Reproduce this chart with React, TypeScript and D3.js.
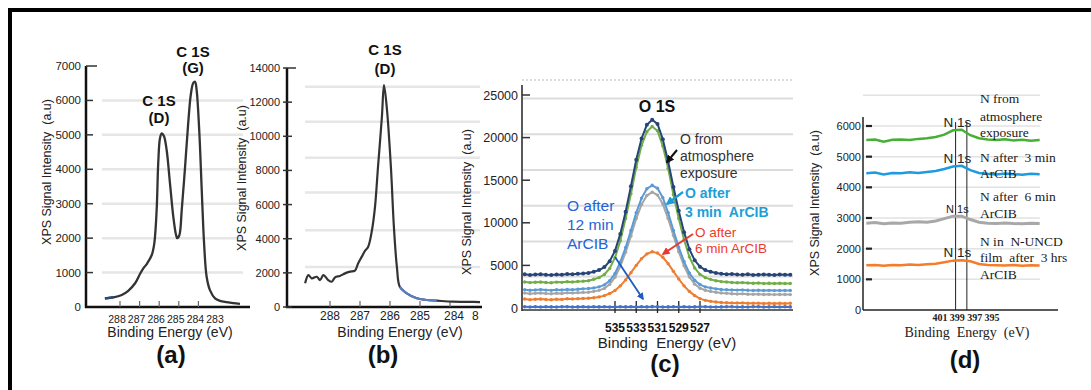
import React, { useEffect } from "react";
import * as d3 from "d3";

const SANS = "'Liberation Sans', Arial, Helvetica, sans-serif";
const SERIF = "'Liberation Serif', 'Times New Roman', serif";

// ---------------- (a) C 1S, two peaks ----------------
const aEnergy = [288.77, 288.34, 287.91, 287.58, 287.23, 286.98, 286.81, 286.61, 286.38, 286.25, 286.13, 286.05, 285.96, 285.87, 285.76, 285.62, 285.45, 285.28, 285.14, 285.08, 284.97, 284.85, 284.68, 284.52, 284.38, 284.26, 284.17, 284.09, 283.95, 283.83, 283.71, 283.58, 283.41, 283.15, 282.9, 282.56, 282.22, 281.88];
const aIntensity = [250, 280, 350, 470, 690, 960, 1120, 1270, 1510, 1850, 2820, 4170, 4900, 5040, 4970, 4560, 3590, 2620, 2090, 2000, 2090, 2820, 4070, 5340, 6200, 6510, 6540, 6300, 5040, 3400, 1850, 880, 490, 250, 180, 140, 110, 90];
const aYTicks = [0, 1000, 2000, 3000, 4000, 5000, 6000, 7000];
const aXTicks = [288, 287, 286, 285, 284, 283];
const aGrid = [1000, 2000, 3000, 4000, 5000, 6000];

// ---------------- (b) C 1S, single peak ----------------
const bEnergy = [288.83, 288.72, 288.61, 288.44, 288.33, 288.22, 288.06, 287.94, 287.83, 287.67, 287.5, 287.33, 287.17, 287.06, 286.94, 286.83, 286.73, 286.6, 286.5, 286.4, 286.27, 286.2, 286.1, 285.97, 285.87, 285.77, 285.67, 285.44, 285.11, 284.78, 284.44, 283.9, 283.33, 283.0];
const bIntensity = [1390, 1870, 1680, 1770, 1580, 1870, 1580, 1480, 1740, 1820, 1970, 2070, 2130, 2560, 2950, 3300, 3520, 4510, 5860, 8200, 11130, 13000, 11540, 8200, 4690, 2340, 1170, 800, 510, 410, 370, 310, 300, 290];
const bYTicks = [0, 2000, 4000, 6000, 8000, 10000, 12000, 14000];
const bXTicks = [288, 287, 286, 285, 284, 283];
const bXLabels = ["288", "287", "286", "285", "284", "8"];
const bGrid = [2350, 4500, 6700, 8750, 10850, 12900];

// ---------------- (c) O 1S ----------------
const cEnergy = [543.5, 543, 542.5, 542, 541.5, 541, 540.5, 540, 539.5, 539, 538.5, 538, 537.5, 537, 536.5, 536, 535.5, 535, 534.5, 534, 533.5, 533, 532.5, 532, 531.5, 531, 530.5, 530, 529.5, 529, 528.5, 528, 527.5, 527, 526.5, 526, 525.5, 525, 524.5, 524, 523.5, 523, 522.5, 522, 521.5, 521, 520.5, 520, 519.5, 519, 518.5];
const cAtmosphere = [3950, 3880, 3920, 3960, 3900, 3870, 3940, 3910, 3980, 3950, 4020, 4050, 4100, 4260, 4450, 4800, 5500, 6700, 8700, 11300, 14300, 17400, 19900, 21500, 22100, 21600, 19800, 17200, 14200, 11400, 8900, 6900, 5600, 4850, 4450, 4250, 4100, 4020, 3950, 3980, 3920, 3900, 3950, 3880, 3910, 3940, 3900, 3870, 3920, 3890, 3900];
const cGreen = [3050, 2980, 3020, 3060, 3000, 2970, 3040, 3010, 3080, 3050, 3120, 3150, 3200, 3380, 3560, 3930, 4650, 5900, 7900, 10500, 13400, 16500, 19100, 20700, 21300, 20800, 19000, 16400, 13300, 10500, 8000, 6000, 4700, 3950, 3560, 3360, 3200, 3100, 3050, 3000, 2960, 2980, 2940, 2900, 2930, 2880, 2900, 2870, 2900, 2880, 2890];
const cMin3 = [2150, 2080, 2120, 2160, 2100, 2070, 2140, 2110, 2180, 2150, 2200, 2250, 2280, 2360, 2480, 2720, 3200, 4050, 5400, 7100, 9100, 11200, 12900, 14000, 14400, 14050, 12950, 11200, 9100, 7150, 5450, 4100, 3250, 2750, 2480, 2350, 2250, 2180, 2150, 2120, 2100, 2120, 2080, 2060, 2090, 2050, 2070, 2040, 2060, 2050, 2060];
const cGray = [1750, 1680, 1720, 1760, 1700, 1670, 1740, 1710, 1780, 1750, 1800, 1830, 1850, 1950, 2070, 2300, 2770, 3600, 4900, 6550, 8450, 10500, 12150, 13200, 13600, 13250, 12200, 10500, 8500, 6600, 4950, 3650, 2800, 2320, 2080, 1950, 1850, 1760, 1720, 1680, 1650, 1660, 1620, 1600, 1620, 1580, 1600, 1570, 1590, 1580, 1570];
const cMin6 = [1050, 980, 1020, 1060, 1000, 970, 1040, 1010, 1080, 1050, 1100, 1120, 1150, 1200, 1300, 1450, 1700, 2050, 2600, 3300, 4150, 5000, 5800, 6350, 6600, 6450, 5950, 5200, 4300, 3400, 2600, 1950, 1450, 1100, 900, 780, 700, 650, 620, 600, 580, 600, 560, 550, 570, 540, 560, 530, 550, 540, 550];
const cMin12 = [150, 120, 140, 110, 150, 130, 120, 140, 150, 110, 130, 140, 120, 150, 130, 140, 120, 110, 150, 130, 140, 120, 150, 130, 160, 140, 120, 130, 150, 110, 140, 120, 130, 150, 140, 120, 110, 130, 150, 140, 120, 130, 110, 150, 140, 120, 130, 150, 110, 140, 130];
const cYTicks = [0, 5000, 10000, 15000, 20000, 25000];
const cXTicks = [535, 533, 531, 529, 527];
const cGrid = [3700, 7800, 12000, 16200, 20400, 24600];

// ---------------- (d) N 1s ----------------
const dEnergy = [409.5, 408.5, 407.5, 406.5, 405.5, 404.5, 403.5, 402.5, 401.5, 400.5, 399.5, 398.5, 397.5, 396.5, 395.5, 394.5, 393.5, 392.5, 391.5, 390.5, 389.5];
const dAtmosphere = [5540, 5560, 5490, 5550, 5560, 5540, 5580, 5600, 5640, 5720, 5860, 5880, 5700, 5600, 5560, 5540, 5570, 5530, 5550, 5520, 5540];
const dMin3 = [4460, 4480, 4420, 4470, 4460, 4490, 4470, 4500, 4530, 4600, 4680, 4700, 4560, 4470, 4440, 4420, 4450, 4430, 4410, 4440, 4430];
const dMin6 = [2830, 2850, 2810, 2840, 2830, 2860, 2880, 2860, 2900, 2980, 3060, 3060, 2950, 2860, 2830, 2820, 2840, 2820, 2810, 2830, 2820];
const dHrs3 = [1460, 1470, 1440, 1470, 1460, 1480, 1470, 1490, 1510, 1560, 1610, 1620, 1590, 1500, 1470, 1460, 1450, 1470, 1440, 1460, 1450];
const dYTicks = [0, 1000, 2000, 3000, 4000, 5000, 6000];
const dXTicks = [401, 399, 397, 395];
const dGrid = [1000, 2000, 3000, 4000, 5000, 6000, 7000];
const dVLines = [399.2, 397.9];

const YLABEL = "XPS Signal Intensity  (a.u)";

export default function App() {
  useEffect(() => {
    document.body.style.margin = "0";
  }, []);

  // (a)
  const ax = d3.scaleLinear().domain([288, 283]).range([120, 218]);
  const ay = d3.scaleLinear().domain([0, 7000]).range([307, 66]);
  const aPath = d3
    .line<number>()
    .x((_, i) => ax(aEnergy[i]))
    .y((v) => ay(v))
    .curve(d3.curveCatmullRom.alpha(0.5));

  // (b)
  const bx = d3.scaleLinear().domain([288, 284]).range([330, 450]);
  const by = d3.scaleLinear().domain([0, 14000]).range([307, 68]);
  const bPath = d3
    .line<number>()
    .x((_, i) => bx(bEnergy[i]))
    .y((v) => by(v))
    .curve(d3.curveCatmullRom.alpha(0.5));
  const bBlueIdx = [26, 27, 28, 29, 30];

  // (c)
  const cx = d3.scaleLinear().domain([535, 527]).range([615, 700]);
  const cy = d3.scaleLinear().domain([0, 25000]).range([308, 95]);
  const cPath = d3
    .line<number>()
    .x((_, i) => cx(cEnergy[i]))
    .y((v) => cy(v));
  const cSeries = [
    { values: cMin12, color: "#4472C4", r: 1.8 },
    { values: cMin6, color: "#ED7D31", r: 1.7 },
    { values: cGray, color: "#A5A5A5", r: 1.7 },
    { values: cMin3, color: "#5B9BD5", r: 1.7 },
    { values: cGreen, color: "#70AD47", r: 1.7 },
    { values: cAtmosphere, color: "#264478", r: 2 },
  ];

  // (d)
  const dx = d3.scaleLinear().domain([401, 395]).range([940, 992]);
  const dy = d3.scaleLinear().domain([0, 6000]).range([310, 126]);
  const dPath = d3
    .line<number>()
    .x((_, i) => dx(dEnergy[i]))
    .y((v) => dy(v));
  const dSeries = [
    { values: dAtmosphere, color: "#45B035", w: 2.5, fs: 13.5 },
    { values: dMin3, color: "#1E9BE0", w: 2.5, fs: 13.5 },
    { values: dMin6, color: "#A8A8A8", w: 3, fs: 11 },
    { values: dHrs3, color: "#F47C2A", w: 2.5, fs: 13.5 },
  ];

  const arrow = (id: string, color: string) => (
    <marker
      id={id}
      viewBox="0 0 10 10"
      refX="8"
      refY="5"
      markerWidth="4"
      markerHeight="4"
      orient="auto-start-reverse"
    >
      <path d="M0,0 L10,5 L0,10 z" fill={color} />
    </marker>
  );

  return (
    <svg
      width={1091}
      height={390}
      style={{ display: "block", background: "#fff", fontFamily: SANS }}
    >
      <defs>
        {arrow("arBlack", "#111")}
        {arrow("arTeal", "#1b9ad6")}
        {arrow("arRed", "#e8392f")}
        {arrow("arBlue", "#1f5bbf")}
      </defs>

      {/* frame */}
      <rect x={8} y={8} width={1083} height={4} fill="#000" />
      <rect x={8} y={8} width={4} height={382} fill="#000" />

      {/* ============ (a) ============ */}
      <g>
        {aGrid.map((v) => (
          <line key={v} x1={102} x2={243} y1={ay(v)} y2={ay(v)} stroke="#e6e6e6" strokeWidth={2.5} />
        ))}
        <line x1={86} x2={86} y1={ay(7000)} y2={ay(0) + 1} stroke="#111" strokeWidth={2.5} />
        <line x1={85} x2={250} y1={ay(0)} y2={ay(0)} stroke="#111" strokeWidth={2.5} />
        {aYTicks.map((v) => (
          <g key={v}>
            {v > 0 && (
              <line x1={86} x2={v === 7000 ? 97 : 93} y1={ay(v)} y2={ay(v)} stroke="#333" strokeWidth={1.5} />
            )}
            <text x={81} y={ay(v) + 4} fontSize={11.5} textAnchor="end" fill="#222">
              {v}
            </text>
          </g>
        ))}
        {aXTicks.slice(0, 5).map((v) => (
          <line key={v} x1={ax(v)} x2={ax(v)} y1={ay(0) - 6} y2={ay(0)} stroke="#666" strokeWidth={1.2} />
        ))}
        {aXTicks.map((v) => (
          <text key={v} x={ax(v) - 3} y={323} fontSize={10.5} textAnchor="middle" fill="#222">
            {v}
          </text>
        ))}
        <path d={aPath(aIntensity) || ""} fill="none" stroke="#333" strokeWidth={2.3} />
        <path
          d={aPath(aIntensity.slice(0, 2)) || ""}
          fill="none"
          stroke="#2b4a80"
          strokeWidth={2.5}
        />
        <text x={159} y={106} fontSize={15} fontWeight="bold" textAnchor="middle" fill="#111">C 1S</text>
        <text x={159} y={123} fontSize={15} fontWeight="bold" textAnchor="middle" fill="#111">(D)</text>
        <text x={193} y={57} fontSize={15} fontWeight="bold" textAnchor="middle" fill="#111">C 1S</text>
        <text x={193} y={73} fontSize={15} fontWeight="bold" textAnchor="middle" fill="#111">(G)</text>
        <text
          transform="translate(51,172) rotate(-90)"
          fontSize={12.5}
          textAnchor="middle"
          fill="#222"
          xmlSpace="preserve"
        >
          {YLABEL}
        </text>
        <text x={170} y={337} fontSize={14} textAnchor="middle" fill="#222">
          Binding Energy (eV)
        </text>
        <text x={171} y={363} fontSize={24} fontWeight="bold" textAnchor="middle" fill="#111">
          (a)
        </text>
      </g>

      {/* ============ (b) ============ */}
      <g>
        {bGrid.map((v) => (
          <line key={v} x1={305} x2={480} y1={by(v)} y2={by(v)} stroke="#e6e6e6" strokeWidth={2.5} />
        ))}
        <line x1={287} x2={287} y1={by(14000)} y2={by(0) + 1} stroke="#111" strokeWidth={2.5} />
        <line x1={286} x2={482} y1={by(0)} y2={by(0)} stroke="#111" strokeWidth={2.5} />
        {bYTicks.map((v) => (
          <g key={v}>
            <line x1={283} x2={v === 14000 ? 296 : 292} y1={by(v)} y2={by(v)} stroke="#333" strokeWidth={1.5} />
            <text x={280} y={by(v) + 4} fontSize={11} textAnchor="end" fill="#222">
              {v}
            </text>
          </g>
        ))}
        {bXTicks.slice(0, 5).map((v) => (
          <line key={v} x1={bx(v)} x2={bx(v)} y1={by(0) - 6} y2={by(0)} stroke="#666" strokeWidth={1.2} />
        ))}
        {bXTicks.map((v, i) => (
          <text
            key={v}
            x={bx(v) + (i === 5 ? -8 : 0) + (i === 4 ? 4 : 0)}
            y={320}
            fontSize={12}
            textAnchor={i === 5 ? "start" : "middle"}
            fill="#222"
          >
            {bXLabels[i]}
          </text>
        ))}
        <path d={bPath(bIntensity) || ""} fill="none" stroke="#333" strokeWidth={2.2} />
        <path
          d={
            d3
              .line<number>()
              .x((i) => bx(bEnergy[i]))
              .y((i) => by(bIntensity[i]))
              .curve(d3.curveCatmullRom.alpha(0.5))(bBlueIdx) || ""
          }
          fill="none"
          stroke="#5b7fc4"
          strokeWidth={2.2}
        />
        <text x={385} y={55} fontSize={15} fontWeight="bold" textAnchor="middle" fill="#111">C 1S</text>
        <text x={385} y={74} fontSize={15} fontWeight="bold" textAnchor="middle" fill="#111">(D)</text>
        <text
          transform="translate(246,178) rotate(-90)"
          fontSize={12.5}
          textAnchor="middle"
          fill="#222"
          xmlSpace="preserve"
        >
          {YLABEL}
        </text>
        <text x={400} y={337} fontSize={14} textAnchor="middle" fill="#222">
          Binding Energy (eV)
        </text>
        <text x={383} y={363} fontSize={24} fontWeight="bold" textAnchor="middle" fill="#111">
          (b)
        </text>
      </g>

      {/* ============ (c) ============ */}
      <g>
        <line x1={522} x2={793} y1={80} y2={80} stroke="#bbb" strokeWidth={1.2} strokeDasharray="2,2" />
        {cGrid.map((v) => (
          <line key={v} x1={523} x2={793} y1={cy(v)} y2={cy(v)} stroke="#dcdcdc" strokeWidth={2} />
        ))}
        <line x1={522} x2={522} y1={85} y2={cy(0) + 3} stroke="#222" strokeWidth={1.5} />
        <line x1={522} x2={793} y1={cy(0) + 2} y2={cy(0) + 2} stroke="#333" strokeWidth={1.5} />
        {cYTicks.map((v) => (
          <g key={v}>
            {v > 0 && <line x1={522} x2={530} y1={cy(v)} y2={cy(v)} stroke="#333" strokeWidth={1.5} />}
            <text x={518} y={cy(v) + 4.5} fontSize={12.5} textAnchor="end" fill="#222">
              {v}
            </text>
          </g>
        ))}
        {cXTicks.map((v) => (
          <line key={v} x1={cx(v)} x2={cx(v)} y1={cy(0) - 7} y2={cy(0) + 5} stroke="#222" strokeWidth={1.3} />
        ))}
        {cXTicks.map((v) => (
          <text key={v} x={cx(v)} y={332} fontSize={12} fontWeight="bold" textAnchor="middle" fill="#111">
            {v}
          </text>
        ))}
        {cSeries.map((s, si) => (
          <g key={si}>
            <path d={cPath(s.values) || ""} fill="none" stroke={s.color} strokeWidth={2} />
            {s.values.map((v, i) => (
              <circle key={i} cx={cx(cEnergy[i])} cy={cy(v)} r={s.r} fill={s.color} />
            ))}
          </g>
        ))}
        <text x={657} y={112} fontSize={16} fontWeight="bold" textAnchor="middle" fill="#111">O 1S</text>
        <g fontSize={14} fill="#333">
          <text x={680} y={144}>O from</text>
          <text x={680} y={161}>atmosphere</text>
          <text x={680} y={178}>exposure</text>
        </g>
        <line x1={677} y1={150} x2={667} y2={162} stroke="#111" strokeWidth={2} markerEnd="url(#arBlack)" />
        <g fontSize={14} fontWeight="bold" fill="#1c9fd8">
          <text x={685} y={198}>O after</text>
          <text x={685} y={217} xmlSpace="preserve">3 min  ArCIB</text>
        </g>
        <line x1={683} y1={192} x2={667} y2={204} stroke="#1b9ad6" strokeWidth={2.2} markerEnd="url(#arTeal)" />
        <g fontSize={13.5} fill="#ee3a2c">
          <text x={695} y={237}>O after</text>
          <text x={695} y={253}>6 min ArCIB</text>
        </g>
        <line x1={693} y1={234} x2={663} y2={254} stroke="#e8392f" strokeWidth={2} markerEnd="url(#arRed)" />
        <g fontSize={15.5} fill="#2463d6">
          <text x={567} y={211}>O after</text>
          <text x={567} y={230}>12 min</text>
          <text x={567} y={249}>ArCIB</text>
        </g>
        <line x1={615} y1={257} x2={643} y2={299} stroke="#1f5bbf" strokeWidth={1.8} markerEnd="url(#arBlue)" />
        <text
          transform="translate(471,202) rotate(-90)"
          fontSize={12.5}
          textAnchor="middle"
          fill="#222"
          xmlSpace="preserve"
        >
          {YLABEL}
        </text>
        <text x={667} y={348} fontSize={15} textAnchor="middle" fill="#222" xmlSpace="preserve">
          Binding  Energy (eV)
        </text>
        <text x={665} y={372} fontSize={24} fontWeight="bold" textAnchor="middle" fill="#111">
          (c)
        </text>
      </g>

      {/* ============ (d) ============ */}
      <g>
        {dGrid.map((v) => (
          <line key={v} x1={863} x2={1040} y1={dy(v)} y2={dy(v)} stroke="#e2e2e2" strokeWidth={1.5} />
        ))}
        <line x1={863} x2={863} y1={117} y2={dy(0)} stroke="#222" strokeWidth={1.5} />
        <line x1={863} x2={1058} y1={dy(0)} y2={dy(0)} stroke="#222" strokeWidth={1.5} />
        {dYTicks.map((v) => (
          <g key={v}>
            {v > 0 && <line x1={866} x2={872} y1={dy(v)} y2={dy(v)} stroke="#222" strokeWidth={2.2} />}
            <text x={861} y={dy(v) + 4} fontSize={11} textAnchor="end" fill="#222">
              {v}
            </text>
          </g>
        ))}
        {dVLines.map((e) => (
          <line key={e} x1={dx(e)} x2={dx(e)} y1={dy(0)} y2={dy(6130)} stroke="#222" strokeWidth={1} />
        ))}
        {dSeries.map((s, si) => (
          <g key={si}>
            <path d={dPath(s.values) || ""} fill="none" stroke={s.color} strokeWidth={s.w} />
            <text
              x={dx(399)}
              y={dy(d3.max(s.values) || 0) - 3}
              fontSize={s.fs}
              textAnchor="middle"
              fill="#222"
            >
              N 1s
            </text>
          </g>
        ))}
        {dXTicks.map((v) => (
          <text key={v} x={dx(v)} y={321} fontSize={10} fontWeight="bold" fontFamily={SERIF} textAnchor="middle" fill="#222">
            {v}
          </text>
        ))}
        <g fontFamily={SERIF} fontSize={13.5} fill="#1a1a1a">
          <text x={980} y={103}>N from</text>
          <text x={980} y={121}>atmosphere</text>
          <text x={980} y={137}>exposure</text>
          <text x={980} y={162} xmlSpace="preserve">N after  3 min</text>
          <text x={980} y={178}>ArCIB</text>
          <text x={980} y={201} xmlSpace="preserve">N after  6 min</text>
          <text x={980} y={218}>ArCIB</text>
          <text x={980} y={246} xmlSpace="preserve">N in  N-UNCD</text>
          <text x={980} y={262} xmlSpace="preserve">film  after  3 hrs</text>
          <text x={980} y={279}>ArCIB</text>
        </g>
        <text
          transform="translate(819,203) rotate(-90)"
          fontSize={12.5}
          textAnchor="middle"
          fill="#222"
          xmlSpace="preserve"
        >
          {YLABEL}
        </text>
        <text x={967} y={337} fontFamily={SERIF} fontSize={14} textAnchor="middle" fill="#222" xmlSpace="preserve">
          Binding  Energy  (eV)
        </text>
        <text x={965} y={368} fontSize={24} fontWeight="bold" textAnchor="middle" fill="#111">
          (d)
        </text>
      </g>
    </svg>
  );
}
